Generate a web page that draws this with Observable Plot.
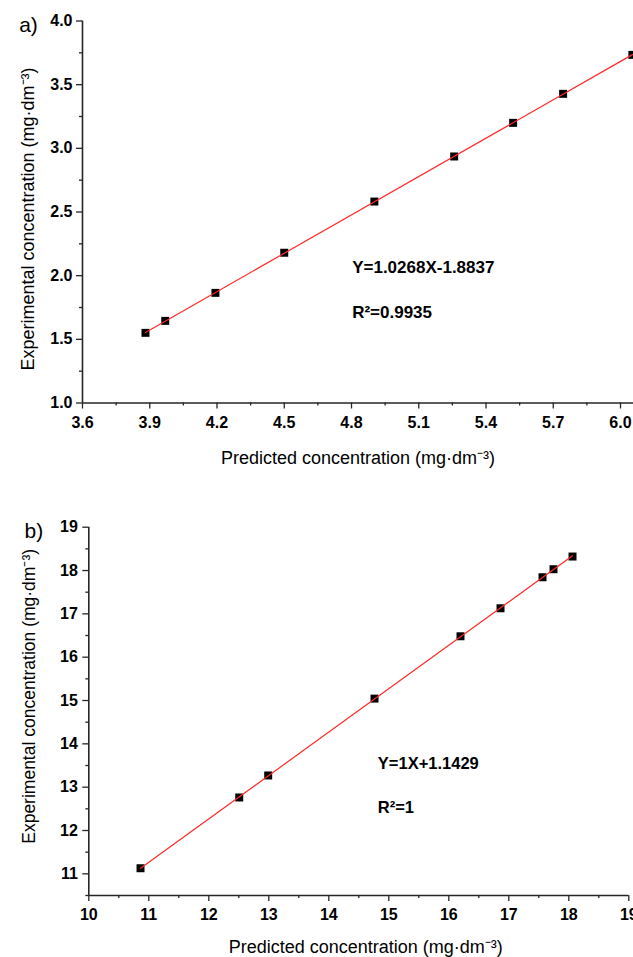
<!DOCTYPE html>
<html>
<head>
<meta charset="utf-8">
<script src="https://cdn.jsdelivr.net/npm/d3@7"></script>
<script src="https://cdn.jsdelivr.net/npm/@observablehq/plot@0.6"></script>
<style>
  html, body { margin: 0; padding: 0; background: white; overflow: hidden; }
  #chart svg { display: block; }
</style>
</head>
<body>
<div id="chart"></div>
<script>
// ---- Panel a data ----
const predA = [3.881, 3.969, 4.193, 4.500, 4.902, 5.258, 5.521, 5.744, 6.053];
const expA  = [1.551, 1.645, 1.865, 2.180, 2.582, 2.936, 3.200, 3.428, 3.734];
const xTicksA = [3.6, 3.9, 4.2, 4.5, 4.8, 5.1, 5.4, 5.7, 6.0];
const xMinorA = [3.75, 4.05, 4.35, 4.65, 4.95, 5.25, 5.55, 5.85];
const yTicksA = [1.0, 1.5, 2.0, 2.5, 3.0, 3.5, 4.0];
const yMinorA = [1.25, 1.75, 2.25, 2.75, 3.25, 3.75];
const eqA = "Y=1.0268X-1.8837";
const r2A = "R²=0.9935";

// ---- Panel b data ----
const predB = [10.862, 12.507, 12.990, 14.762, 16.195, 16.862, 17.562, 17.745, 18.062];
const expB  = [11.129, 12.762, 13.270, 15.044, 16.483, 17.129, 17.845, 18.030, 18.323];
const xTicksB = [10, 11, 12, 13, 14, 15, 16, 17, 18, 19];
const xMinorB = [10.5, 11.5, 12.5, 13.5, 14.5, 15.5, 16.5, 17.5, 18.5];
const yTicksB = [11, 12, 13, 14, 15, 16, 17, 18, 19];
const yMinorB = [10.5, 11.5, 12.5, 13.5, 14.5, 15.5, 16.5, 17.5, 18.5];
const eqB = "Y=1X+1.1429";
const r2B = "R²=1";

const xTitle = "Predicted concentration (mg·dm⁻³)";
const yTitle = "Experimental concentration (mg·dm⁻³)";

const FONT = "'Liberation Sans', Arial, Helvetica, sans-serif";
const AXIS = "#262626";

function panel(o) {
  const rows = o.px.map((v, i) => ({x: v, y: o.py[i]}));
  const svg = Plot.plot({
    width: 633,
    height: o.height,
    marginTop: o.mt, marginBottom: o.mb, marginLeft: o.ml, marginRight: o.mr,
    x: {domain: o.xDomain},
    y: {domain: o.yDomain},
    style: {fontFamily: FONT, color: AXIS, background: "white"},
    marks: [
      Plot.axisX(o.xMinor, {tickSize: 3, tickFormat: () => "", label: null, strokeWidth: 1.3}),
      Plot.axisX(o.xTicks, {tickSize: 6, tickPadding: o.xPad, tickFormat: o.fmt, label: null,
        fontSize: 16, fontWeight: "bold", fill: "#000", strokeWidth: 1.3}),
      Plot.axisY(o.yMinor, {tickSize: 3, tickFormat: () => "", label: null, strokeWidth: 1.3}),
      Plot.axisY(o.yTicks, {tickSize: 6, tickPadding: o.yPad, tickFormat: o.fmt, label: null,
        fontSize: 16, fontWeight: "bold", fill: "#000", strokeWidth: 1.3}),
      Plot.ruleY([o.yDomain[0]], {stroke: AXIS, strokeWidth: 1.6}),
      Plot.ruleX([o.xDomain[0]], {stroke: AXIS, strokeWidth: 1.6}),
      Plot.dot(rows, {x: "x", y: "y", symbol: "square", r: 4.5, fill: "#000", stroke: null}),
      Plot.linearRegressionY(rows, {x: "x", y: "y", stroke: "#ff2828", strokeWidth: 1.2, ci: 0}),
      Plot.text([o.eq], {x: [o.eqX], y: [o.eqY], text: d => d, textAnchor: "start",
        fontSize: o.eqSize, fontWeight: "bold", fill: "#000"}),
      Plot.text([o.r2], {x: [o.eqX], y: [o.r2Y], text: d => d, textAnchor: "start",
        fontSize: o.eqSize, fontWeight: "bold", fill: "#000"}),
      Plot.text([xTitle], {frameAnchor: "bottom", text: d => d, dx: o.xtDx, dy: o.xtDy,
        textAnchor: "middle", lineAnchor: "middle", fontSize: 18, fill: "#000"}),
      Plot.text([yTitle], {frameAnchor: "left", text: d => d, rotate: -90, dx: o.ytDx, dy: o.ytDy,
        textAnchor: "middle", lineAnchor: "middle", fontSize: o.ytSize, fill: "#000"}),
      Plot.text([o.tag], {frameAnchor: "top-left", text: d => d, dx: o.tagDx, dy: o.tagDy,
        textAnchor: "middle", lineAnchor: "middle", fontSize: 21, fill: "#000"})
    ]
  });
  // make the tick labels bold and larger
  svg.querySelectorAll("g[aria-label$='tick label']").forEach(g => {
    g.setAttribute("font-weight", "bold");
    g.setAttribute("font-size", "16");
    g.style.fontWeight = "bold";
    g.style.fontSize = "16px";
    g.querySelectorAll("text").forEach(t => { t.style.fontWeight = "bold"; t.style.fontSize = "16px"; });
  });
  return svg;
}

const chart = document.getElementById("chart");

chart.append(panel({
  px: predA, py: expA, height: 480,
  mt: 20.5, mb: 77.5, ml: 82, mr: 0,
  xDomain: [3.6, 6.058], yDomain: [1, 4],
  xTicks: xTicksA, xMinor: xMinorA, yTicks: yTicksA, yMinor: yMinorA,
  fmt: d => d.toFixed(1), xPad: 8, yPad: 4,
  eq: eqA, r2: r2A, eqX: 4.803, eqY: 2.06, r2Y: 1.707, eqSize: 17,
  xtDx: 0, xtDy: 55, ytDx: -54, ytDy: 7, ytSize: 18,
  tag: "a)", tagDx: -54, tagDy: 4
}));

chart.append(panel({
  px: predB, py: expB, height: 477,
  mt: 46.7, mb: 62, ml: 88.3, mr: 4.7,
  xDomain: [10, 19], yDomain: [10.5, 19],
  xTicks: xTicksB, xMinor: xMinorB, yTicks: yTicksB, yMinor: yMinorB,
  fmt: d => String(d), xPad: 7, yPad: 5,
  eq: eqB, r2: r2B, eqX: 14.817, eqY: 13.535, r2Y: 12.52, eqSize: 16.5,
  xtDx: 7, xtDy: 52, ytDx: -59.5, ytDy: -15, ytSize: 17.5,
  tag: "b)", tagDx: -55, tagDy: 4
}));
</script>
</body>
</html>
